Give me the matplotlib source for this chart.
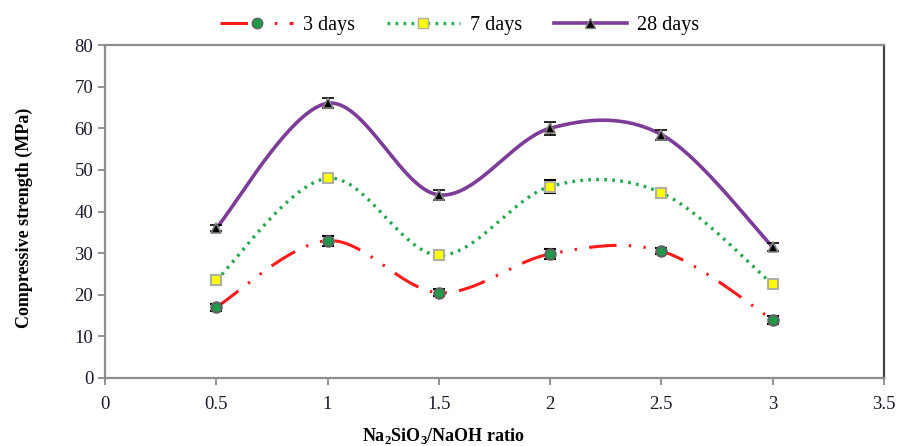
import numpy as np
import matplotlib
matplotlib.use("Agg")
import matplotlib.pyplot as plt
from matplotlib.lines import Line2D

plt.rcParams['font.family'] = ['Liberation Serif', 'DejaVu Serif']
plt.rcParams['mathtext.fontset'] = 'custom'
plt.rcParams['mathtext.rm'] = 'Liberation Serif:bold'
plt.rcParams['mathtext.bf'] = 'Liberation Serif:bold'

# data
ratio = [0.5, 1.0, 1.5, 2.0, 2.5, 3.0]
days3 = [17.0, 33.0, 20.5, 29.8, 30.5, 14.0]
days7 = [23.5, 48.0, 29.5, 46.0, 44.5, 22.5]
days28 = [36.0, 66.0, 44.0, 60.0, 58.5, 31.5]
err3 = [0.8, 1.2, 0.8, 1.2, 0.8, 1.0]
err7 = [0.8, 1.0, 0.8, 1.5, 0.8, 0.8]
err28 = [0.8, 1.2, 1.2, 1.5, 1.2, 1.0]
xticks = [0, 0.5, 1, 1.5, 2, 2.5, 3, 3.5]
yticks = [0, 10, 20, 30, 40, 50, 60, 70, 80]


def smooth(x, y, n=40):
    # excel-like smoothed line (cardinal bezier)
    p = np.column_stack([x, y]).astype(float)
    pp = np.vstack([p[0], p, p[-1]])
    xs, ys = [], []
    t = np.linspace(0, 1, n)[:, None]
    for i in range(len(p) - 1):
        p0, p3 = pp[i + 1], pp[i + 2]
        c1 = p0 + (pp[i + 2] - pp[i]) / 6.0
        c2 = p3 - (pp[i + 3] - pp[i + 1]) / 6.0
        b = ((1 - t) ** 3) * p0 + 3 * ((1 - t) ** 2) * t * c1 + 3 * (1 - t) * t ** 2 * c2 + t ** 3 * p3
        xs.extend(b[:, 0])
        ys.extend(b[:, 1])
    return np.array(xs), np.array(ys)


fig = plt.figure(figsize=(9.01, 4.46), dpi=100)
ax = fig.add_axes([0.1165, 0.1525, 0.8645, 0.7465])

red_ls = (0, (9, 4, 0.8, 4, 0.8, 4))
green_ls = (0, (0.8, 1.6))

sx, sy = smooth(ratio, days28)
ax.plot(sx, sy, color='#7d3c98', lw=2.6, zorder=3)
sx, sy = smooth(ratio, days7)
ax.plot(sx, sy, color='#22a84a', lw=2.4, ls=green_ls, zorder=3)
sx, sy = smooth(ratio, days3)
ax.plot(sx, sy, color='#ff1a1a', lw=2.2, ls=red_ls, zorder=3)

ax.errorbar(ratio, days28, yerr=err28, fmt='^', color='black', ms=7, mfc='black',
            mec='#808080', mew=1.2, ecolor='black', elinewidth=1, capsize=4, zorder=4)
ax.errorbar(ratio, days7, yerr=err7, fmt='s', ms=7.5, mfc='#ffff00',
            mec='#b0b0a0', mew=1.5, ecolor='black', elinewidth=1, capsize=4, zorder=4)
ax.errorbar(ratio, days3, yerr=err3, fmt='o', ms=7.5, mfc='#1e9a4a',
            mec='#606060', mew=1.5, ecolor='black', elinewidth=1, capsize=4, zorder=4)

ax.set_xlim(0, 3.5)
ax.set_ylim(0, 80)
ax.set_xticks(xticks)
ax.set_xticklabels([f"{v:g}" for v in xticks])
ax.set_yticks(yticks)
ax.tick_params(labelsize=13.5, colors='#808080', labelcolor='#1a1a2e', length=5, width=1.2)
ax.tick_params(axis='x', pad=8)
for s in ax.spines.values():
    s.set_color('#8c8c8c')
    s.set_linewidth(1.6)
ax.spines['right'].set_color('#404040')

ax.set_ylabel("Compressive strength (MPa)", fontsize=13, fontweight='bold')
ax.set_xlabel(r"Na$_{\mathbf{2}}$SiO$_{\mathbf{3}}$/NaOH ratio", fontsize=13, fontweight='bold')
ax.yaxis.set_label_coords(-0.092, 0.48)
ax.xaxis.set_label_coords(0.435, -0.145)

handles = [
    Line2D([], [], color='#ff1a1a', lw=2.2, ls=red_ls, marker='o', ms=7.5, mfc='#1e9a4a', mec='#606060'),
    Line2D([], [], color='#22a84a', lw=2.4, ls=green_ls, marker='s', ms=7, mfc='#ffff00', mec='#b0b0a0'),
    Line2D([], [], color='#7d3c98', lw=2.6, marker='^', ms=7, mfc='black', mec='#808080'),
]
fig.legend(handles, ['3 days', '7 days', '28 days'], loc='upper center', bbox_to_anchor=(0.51, 1.005),
           ncol=3, frameon=False, fontsize=14.5, handlelength=3.6, columnspacing=1.6, handletextpad=0.5)

fig.savefig("out.png", dpi=100)
